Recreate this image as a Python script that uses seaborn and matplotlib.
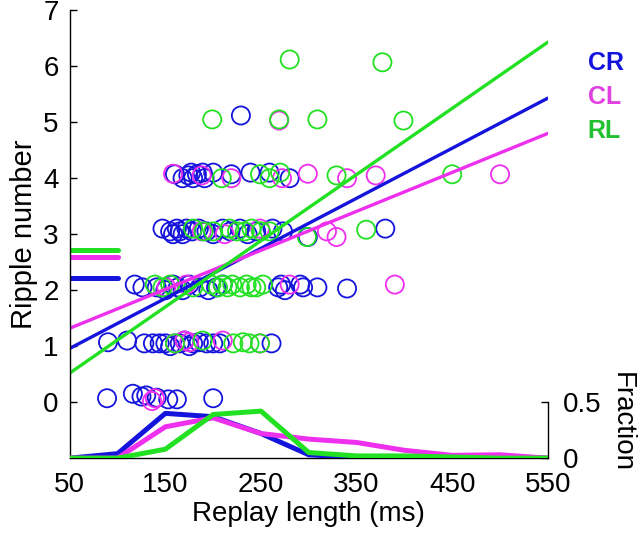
import matplotlib
matplotlib.use('Agg')
import matplotlib.pyplot as plt
import seaborn as sns
import pandas as pd
import numpy as np

# Couleurs des trois conditions
colors = {'CR': '#1414dc', 'CL': '#ee30ee', 'RL': '#22e022'}
text_colors = {'CR': '#1414dc', 'CL': '#e040e0', 'RL': '#20c030'}
groups = ['CR', 'CL', 'RL']

# Nuage de points : longueur de replay (ms) / nombre de ripples
cr_len = [89, 116, 125, 130, 141, 153, 162, 200,
          90, 110, 128, 137, 144, 150, 155, 165, 170, 175, 179, 185, 193, 200, 207, 261,
          118, 126, 141, 150, 158, 163, 168, 175, 186, 195, 203, 210, 268, 271, 275, 291, 294, 309, 340,
          147, 155, 158, 162, 165, 168, 172, 178, 185, 193, 200, 210, 218, 228, 236, 245, 262, 273, 299, 380,
          160, 168, 174, 177, 179, 183, 189, 191, 200, 219, 239, 259, 280,
          229]
cr_rip = [0.07, 0.15, 0.1, 0.12, 0.08, 0.05, 0.05, 0.07,
          1.07, 1.1, 1.05, 1.05, 1.05, 1.05, 1.0, 1.05, 1.1, 1.0, 1.05, 1.07, 1.05, 1.05, 1.05, 1.05,
          2.1, 2.05, 2.05, 2.0, 2.1, 2.05, 2.0, 2.1, 2.05, 2.0, 2.05, 2.1, 2.05, 2.1, 2.0, 2.1, 2.05, 2.05, 2.03,
          3.1, 3.05, 3.0, 3.1, 3.05, 3.0, 3.1, 3.05, 3.1, 3.05, 3.0, 3.1, 3.05, 3.1, 3.0, 3.05, 3.1, 3.05, 2.95, 3.1,
          4.07, 4.0, 4.05, 4.1, 4.0, 4.07, 4.1, 4.0, 4.1, 4.07, 4.1, 4.1, 4.0,
          5.12]

cl_len = [136, 139,
          160, 170, 175, 210, 249,
          151, 172, 280, 390,
          188, 212, 249, 319, 329,
          158, 188, 219, 272, 299, 340, 370, 500,
          269]
cl_rip = [0.02, 0.07,
          1.05, 1.1, 1.07, 1.1, 1.05,
          2.05, 2.1, 2.1, 2.1,
          3.05, 3.0, 3.1, 3.05, 2.95,
          4.08, 4.05, 4.0, 4.0, 4.08, 4.0, 4.05, 4.07,
          5.03]

rl_len = [160, 189, 221, 231, 238, 249,
          139, 147, 155, 179, 198, 205, 210, 215, 220, 228, 235, 240, 245, 252,
          179, 190, 200, 217, 225, 233, 240, 250, 259, 298, 360,
          209, 249, 259, 270, 329, 450,
          199, 269, 309, 399,
          280, 377]
rl_rip = [1.05, 1.1, 1.05, 1.07, 1.05, 1.05,
          2.1, 2.05, 2.1, 2.05, 2.1, 2.05, 2.1, 2.05, 2.1, 2.05, 2.1, 2.05, 2.05, 2.1,
          3.1, 3.05, 3.05, 3.1, 3.05, 3.05, 3.1, 3.05, 3.05, 2.95, 3.08,
          4.0, 4.07, 4.0, 4.1, 4.05, 4.07,
          5.05, 5.05, 5.05, 5.03,
          6.12, 6.07]

# Droites de régression (extrémités)
fit_x = [50, 550]
cr_fit = [0.96, 5.43]
cl_fit = [1.32, 4.80]
rl_fit = [0.52, 6.43]

# Moyennes du nombre de ripples (petits traits à gauche)
mean_x = [50, 100]
cr_mean = 2.21
cl_mean = 2.59
rl_mean = 2.71

# Distribution des longueurs (fraction)
frac_bins = [50, 100, 150, 200, 250, 300, 350, 400, 450, 500, 550]
cr_frac = [0, 0.04, 0.40, 0.37, 0.22, 0.03, 0.005, 0, 0, 0, 0]
cl_frac = [0, 0.0, 0.28, 0.36, 0.22, 0.17, 0.14, 0.07, 0.025, 0.03, 0]
rl_frac = [0, 0, 0.08, 0.39, 0.42, 0.05, 0.02, 0.02, 0.01, 0.0, 0]

sns.set_theme(style='white')
plt.rcParams['font.family'] = ['Liberation Sans', 'DejaVu Sans']
plt.rcParams['text.color'] = 'black'
plt.rcParams['axes.labelcolor'] = 'black'

scatter_df = pd.concat([
    pd.DataFrame({'len': cr_len, 'rip': cr_rip, 'group': 'CR'}),
    pd.DataFrame({'len': cl_len, 'rip': cl_rip, 'group': 'CL'}),
    pd.DataFrame({'len': rl_len, 'rip': rl_rip, 'group': 'RL'}),
], ignore_index=True)

fits = {'CR': cr_fit, 'CL': cl_fit, 'RL': rl_fit}
means = {'CR': cr_mean, 'CL': cl_mean, 'RL': rl_mean}
frac_df = pd.concat([
    pd.DataFrame({'len': frac_bins, 'frac': f, 'group': g})
    for g, f in zip(groups, [cr_frac, cl_frac, rl_frac])
], ignore_index=True)

fig = plt.figure(figsize=(6.4, 5.39), dpi=100)
ax = fig.add_axes([0.109, 0.150, 0.747, 0.831])

sns.scatterplot(data=scatter_df, x='len', y='rip', hue='group', palette=colors,
                hue_order=groups, s=170, linewidth=1.3, legend=False, ax=ax)
for coll in ax.collections:
    fc = coll.get_facecolors()
    coll.set_edgecolors(fc)
    coll.set_facecolors('none')

for g in groups:
    sns.lineplot(x=fit_x, y=fits[g], color=colors[g], linewidth=2.4, ax=ax)
for g in groups:
    sns.lineplot(x=mean_x, y=[means[g], means[g]], color=colors[g], linewidth=3.6, ax=ax)

ax.set_xlim(50, 550)
ax.set_ylim(-1, 7)
ax.set_xticks([50, 150, 250, 350, 450, 550])
ax.set_yticks(range(0, 8))
ax.tick_params(direction='in', length=5, width=1, labelsize=20, colors='black')
ax.tick_params(axis='x', pad=10)
ax.tick_params(axis='y', pad=8)
ax.set_xlabel('Replay length (ms)', fontsize=20, labelpad=2)
ax.set_ylabel('Ripple number', fontsize=21, labelpad=4)
for side in ['top', 'right']:
    ax.spines[side].set_visible(False)
for side in ['left', 'bottom']:
    ax.spines[side].set_color('black')
    ax.spines[side].set_linewidth(1)

# Axe secondaire pour la fraction
ax2 = ax.twinx()
sns.lineplot(data=frac_df, x='len', y='frac', hue='group', palette=colors,
             hue_order=groups, linewidth=3.6, legend=False, ax=ax2)
ax2.set_ylim(0, 4)
ax2.set_yticks([0, 0.5])
ax2.set_yticklabels(['0', '0.5'])
ax2.tick_params(direction='in', length=5, width=1, labelsize=20, colors='black', pad=11)
ax2.set_ylabel('')
for side in ['top', 'left', 'bottom']:
    ax2.spines[side].set_visible(False)
ax2.spines['right'].set_bounds(0, 0.5)
ax2.spines['right'].set_color('black')
ax2.spines['right'].set_linewidth(1)
fig.text(0.972, 0.310, 'Fraction', rotation=-90, fontsize=20, ha='center', va='top')

# Légende textuelle
for i, g in enumerate(groups):
    fig.text(0.918, 0.883 - i * 0.063, g, color=text_colors[g], fontsize=18,
             fontweight='bold', ha='left', va='center')

fig.savefig('out.png', dpi=100)
